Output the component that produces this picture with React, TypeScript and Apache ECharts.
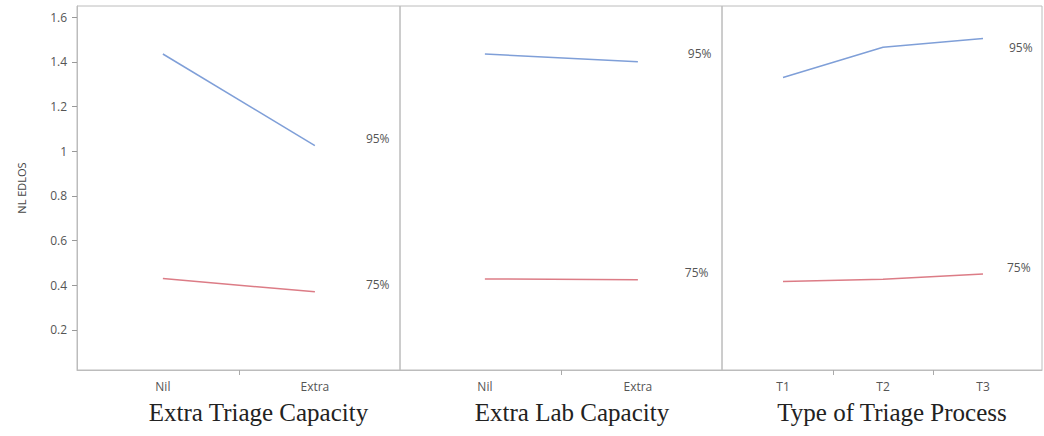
import React, { useEffect, useRef } from "react";
import * as echarts from "echarts";

// Factor levels for each panel
const triageCats = ["Nil", "Extra"];
const labCats = ["Nil", "Extra"];
const processCats = ["T1", "T2", "T3"];

// Mean NL EDLOS for the 95% and 75% occupancy levels
const triage95 = [1.435, 1.025];
const triage75 = [0.43, 0.37];
const lab95 = [1.435, 1.4];
const lab75 = [0.428, 0.424];
const process95 = [1.33, 1.465, 1.505];
const process75 = [0.416, 0.426, 0.45];

const yTicks = [0.2, 0.4, 0.6, 0.8, 1, 1.2, 1.4, 1.6];
const panelTitles = ["Extra Triage Capacity", "Extra Lab Capacity", "Type of Triage Process"];
const levelNames = ["95%", "75%"];

const BLUE = "#7f9fd8";
const RED = "#dc7c86";
const FRAME = "#bcbcbc";

export default function App() {
  const ref = useRef<HTMLDivElement>(null);

  useEffect(() => {
    if (!ref.current) return;
    const chart = echarts.init(ref.current, null, { renderer: "svg" });

    const panels = [
      { cats: triageCats, hi: triage95, lo: triage75, left: 77, width: 323, min: -0.565, max: 1.56, hiOff: [43, -7], loOff: [43, -7], titlePad: 40 },
      { cats: labCats, hi: lab95, lo: lab75, left: 400, width: 322, min: -0.555, max: 1.55, hiOff: [42, -8], loOff: [39, -7], titlePad: 22 },
      { cats: processCats, hi: process95, lo: process75, left: 722, width: 320, min: -0.61, max: 2.59, hiOff: [18, 9], loOff: [16, -6], titlePad: 20 },
    ];

    const grids = panels.map((p) => ({
      left: p.left,
      width: p.width,
      top: 6,
      height: 364,
      show: true,
      borderColor: FRAME,
      borderWidth: 1,
      backgroundColor: "transparent",
    }));

    const xAxes = panels.map((p, i) => ({
      type: "value",
      gridIndex: i,
      min: p.min,
      max: p.max,
      splitLine: { show: false },
      axisLine: { show: true, onZero: false, lineStyle: { color: FRAME } },
      axisTick: {
        show: true,
        length: 5,
        lineStyle: { color: "#aaaaaa" },
        customValues: p.cats.slice(1).map((_, k) => k + 0.5),
      },
      axisLabel: {
        customValues: p.cats.map((_, k) => k),
        formatter: (v: number) => p.cats[Math.round(v)] ?? "",
        color: "#555",
        fontSize: 12,
        fontFamily: "Open Sans",
        margin: 10,
      },
      name: panelTitles[i],
      nameLocation: "middle",
      nameGap: 30,
      nameTextStyle: {
        fontFamily: "Liberation Serif",
        fontSize: 25,
        color: "#222",
        padding: [0, 0, 0, p.titlePad],
      },
    }));

    const yAxes = panels.map((_, i) => ({
      type: "value",
      gridIndex: i,
      show: i === 0,
      position: "left",
      min: 0.02,
      max: 1.65,
      splitLine: { show: false },
      axisLine: { show: true, onZero: false, lineStyle: { color: FRAME } },
      axisTick: {
        show: true,
        inside: false,
        length: 5,
        lineStyle: { color: "#999999", width: 1 },
        customValues: yTicks,
      },
      axisLabel: {
        customValues: yTicks,
        formatter: (v: number) => String(v),
        color: "#555",
        fontSize: 12,
        fontFamily: "Open Sans",
        margin: 10,
      },
      name: "NL EDLOS",
      nameLocation: "middle",
      nameRotate: 90,
      nameGap: 50,
      nameTextStyle: { color: "#444", fontSize: 11, fontFamily: "Open Sans" },
    }));

    const series: any[] = [];
    panels.forEach((p, i) => {
      [
        { vals: p.hi, color: BLUE, name: levelNames[0], off: p.hiOff },
        { vals: p.lo, color: RED, name: levelNames[1], off: p.loOff },
      ].forEach((s) => {
        series.push({
          type: "line",
          name: s.name,
          xAxisIndex: i,
          yAxisIndex: i,
          data: s.vals.map((v, k) => [k, v]),
          showSymbol: false,
          lineStyle: { color: s.color, width: 1.5 },
          itemStyle: { color: s.color },
          endLabel: {
            show: true,
            formatter: () => s.name,
            offset: s.off,
            color: "#555",
            fontSize: 12,
            fontFamily: "Open Sans",
          },
          silent: true,
        });
      });
    });

    chart.setOption({
      animation: false,
      backgroundColor: "#ffffff",
      grid: grids,
      xAxis: xAxes,
      yAxis: yAxes,
      series,
    });

    return () => chart.dispose();
  }, []);

  return (
    <div
      ref={ref}
      style={{ position: "fixed", left: 0, top: 0, width: 1044, height: 436 }}
    />
  );
}
